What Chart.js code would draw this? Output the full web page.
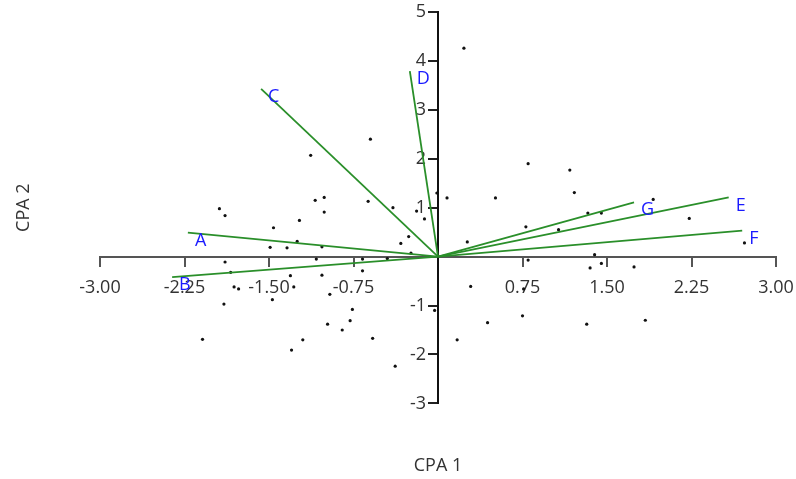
<!DOCTYPE html>
<html>
<head>
<meta charset="utf-8">
<script src="https://cdn.jsdelivr.net/npm/chart.js@4/dist/chart.umd.min.js"></script>
<style>
  body { margin: 0; background: #fff; }
  #wrap { width: 796px; height: 479px; }
</style>
</head>
<body>
<div id="wrap"><canvas id="canvas"></canvas></div>
<script>
/* variable vectors (loadings) */
const varNames = ['A', 'B', 'C', 'D', 'E', 'F', 'G'];
const varX = [-2.22, -2.36, -1.57, -0.25, 2.58, 2.70, 1.74];
const varY = [0.49, -0.42, 3.43, 3.79, 1.21, 0.53, 1.11];

/* sample scores */
const scoreX = [-0.60, -1.13, -0.01, 0.08, -1.94, -1.89, -1.09, -1.01, -0.62, -0.40,
  -0.19, -1.01, -0.12, -1.23, -1.46, -0.26, -0.33, -1.25, -1.49, -1.34,
  -1.03, -0.24, -1.89, -1.08, -0.67, -0.45, -1.84, -0.67, -1.31, -1.03,
  -1.81, -1.77, -1.28, -0.96, -1.90, -1.47, -0.76, -0.03, -0.98, -0.85,
  -0.78, -0.58, -2.09, -1.20, -1.30, -0.38, 0.29, 0.76, 0.75, 0.44,
  1.32, 1.84, 0.17, 0.80, 1.17, 1.21, 0.51, 1.91, 1.33, 1.45,
  2.23, 0.78, 1.07, 0.26, 2.72, 1.39, 0.80, 1.35, 1.45, 1.74, 0.23];
const scoreY = [2.40, 2.07, 1.30, 1.20, 0.98, 0.84, 1.15, 1.21, 1.13, 1.00,
  0.93, 0.91, 0.77, 0.74, 0.59, 0.41, 0.27, 0.31, 0.19, 0.18,
  0.20, 0.07, -0.11, -0.05, -0.05, -0.04, -0.32, -0.29, -0.39, -0.38,
  -0.62, -0.66, -0.62, -0.77, -0.97, -0.88, -1.08, -1.10, -1.38, -1.50,
  -1.31, -1.67, -1.69, -1.70, -1.91, -2.24, -0.61, -0.66, -1.21, -1.35,
  -1.38, -1.30, -1.70, 1.90, 1.77, 1.31, 1.20, 1.17, 0.89, 0.89,
  0.78, 0.61, 0.55, 0.30, 0.28, 0.04, -0.07, -0.23, -0.14, -0.21, 4.26];

/* axis ticks */
const xTickValues = [-3, -2.25, -1.5, -0.75, 0, 0.75, 1.5, 2.25, 3];
const yTickValues = [-3, -2, -1, 0, 1, 2, 3, 4, 5];

Chart.defaults.font.family = "'Open Sans', sans-serif";
Chart.defaults.color = '#333';

const vectorSets = varNames.map(function(name, i){
  return {
    label: name,
    data: [{x: 0, y: 0}, {x: varX[i], y: varY[i]}],
    showLine: true,
    borderColor: '#2a8f2a',
    borderWidth: 1.8,
    pointRadius: 0
  };
});

const scoreSet = {
  label: 'scores',
  data: scoreX.map(function(x, i){ return {x: x, y: scoreY[i]}; }),
  pointRadius: 1.6,
  pointBorderWidth: 0,
  backgroundColor: '#111',
  borderColor: '#111'
};

/* y tick labels: a centred y axis puts them on top of the axis line, so draw them left of the tick marks */
const yLabels = {
  id: 'yLabels',
  beforeDatasetsDraw(chart){
    const ctx = chart.ctx;
    const xs = chart.scales.x;
    const ys = chart.scales.y;
    const x0 = xs.getPixelForValue(0);
    ctx.save();
    ctx.font = "18px 'Open Sans', sans-serif";
    ctx.fillStyle = '#333';
    ctx.textAlign = 'right';
    ctx.textBaseline = 'middle';
    yTickValues.forEach(function(v){
      if (v === 0) return;
      ctx.fillText(String(v), x0 - 12, ys.getPixelForValue(v));
    });
    ctx.restore();
  }
};

/* blue letters at the end of each vector */
const vectorLabels = {
  id: 'vectorLabels',
  afterDatasetsDraw(chart){
    const ctx = chart.ctx;
    const xs = chart.scales.x;
    const ys = chart.scales.y;
    ctx.save();
    ctx.font = "18px 'Open Sans', sans-serif";
    ctx.fillStyle = '#1a1aff';
    ctx.textAlign = 'left';
    ctx.textBaseline = 'middle';
    varNames.forEach(function(name, i){
      ctx.fillText(name, xs.getPixelForValue(varX[i]) + 7, ys.getPixelForValue(varY[i]) + 8);
    });
    ctx.restore();
  }
};

new Chart(document.getElementById('canvas'), {
  type: 'scatter',
  data: { datasets: vectorSets.concat([scoreSet]) },
  plugins: [yLabels, vectorLabels],
  options: {
    responsive: true,
    maintainAspectRatio: false,
    animation: false,
    layout: { padding: { left: 0, right: 20, top: 12, bottom: 2 } },
    plugins: {
      legend: { display: false },
      tooltip: { enabled: false },
      title: {
        display: true,
        text: 'CPA 1',
        position: 'bottom',
        fullSize: false,
        color: '#333',
        font: { size: 18, weight: 'normal' },
        padding: { top: 52, bottom: 0 }
      },
      subtitle: {
        display: true,
        text: 'CPA 2',
        position: 'left',
        fullSize: false,
        color: '#333',
        font: { size: 18, weight: 'normal' },
        padding: { top: 13, bottom: 65.4 }
      }
    },
    scales: {
      x: {
        type: 'linear',
        position: { y: 0 },
        min: -3,
        max: 3,
        afterBuildTicks: function(scale){
          scale.ticks = xTickValues.map(function(v){ return {value: v}; });
        },
        /* the label padding would otherwise push the right edge in */
        afterFit: function(scale){
          scale.paddingLeft = 0;
          scale.paddingRight = 0;
        },
        grid: { drawOnChartArea: false, drawTicks: true, tickLength: 9, color: '#555', lineWidth: 2 },
        border: { display: true, color: '#555', width: 2 },
        ticks: {
          padding: 11,
          maxRotation: 0,
          autoSkip: false,
          font: { size: 18 },
          color: '#333',
          callback: function(v){ return v === 0 ? '' : v.toFixed(2); }
        }
      },
      y: {
        type: 'linear',
        position: { x: 0 },
        min: -3,
        max: 5,
        afterBuildTicks: function(scale){
          scale.ticks = yTickValues.map(function(v){ return {value: v}; });
        },
        grid: { drawOnChartArea: false, drawTicks: true, tickLength: 9, color: '#222', lineWidth: 2 },
        border: { display: true, color: '#111', width: 2 },
        ticks: { display: false, autoSkip: false }
      }
    }
  }
});
</script>
</body>
</html>
